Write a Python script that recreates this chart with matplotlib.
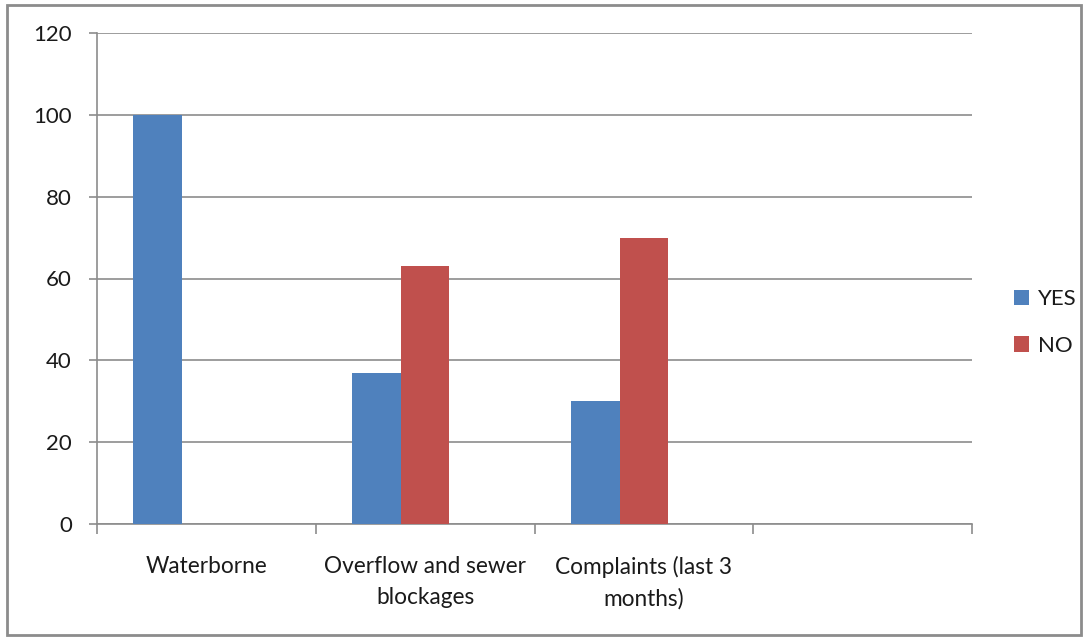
import numpy as np
import matplotlib
matplotlib.use("Agg")
import matplotlib.pyplot as plt
from matplotlib.patches import Rectangle

categories = ["Waterborne", "Overflow and sewer\nblockages", "Complaints (last 3\nmonths)", ""]
yes_vals = [100, 37, 30]
no_vals = [0, 63, 70]
y_ticks = [0, 20, 40, 60, 80, 100, 120]

BLUE = "#4F81BD"
RED = "#C0504D"
GRID = "#8C8C8C"

plt.rcParams["font.family"] = ["Lato", "DejaVu Sans"]

fig = plt.figure(figsize=(10.84, 6.38), dpi=100)
ax = fig.add_axes([97 / 1084, 1 - 524 / 638, 875 / 1084, 491 / 638])

# three series slots per category (third is empty), 150% gap
w = 1 / 4.5
centers = np.arange(len(yes_vals)) + 0.5
ax.bar(centers - w, yes_vals, w, color=BLUE, label="YES", zorder=3)
ax.bar(centers, no_vals, w, color=RED, label="NO", zorder=3)

ax.set_xlim(0, len(categories))
ax.set_ylim(0, 120)
ax.set_yticks(y_ticks)
ax.yaxis.grid(True, color=GRID, lw=1.2, zorder=0)
ax.tick_params(axis="y", length=6, width=1.2, color=GRID, pad=12, labelsize=16,
               labelcolor="#1a1a1a")

ax.set_xticks(np.arange(len(categories)) + 0.5)
ax.set_xticklabels(categories, fontsize=16.3, va="top", color="#1a1a1a")
for lbl in ax.get_xticklabels():
    lbl.set_linespacing(1.6)
ax.set_xticks(np.arange(len(categories) + 1), minor=True)
ax.tick_params(axis="x", which="major", length=0, pad=23)
ax.tick_params(axis="x", which="minor", length=7, width=1.2, color=GRID)

for side in ("top", "right"):
    ax.spines[side].set_visible(False)
for side in ("left", "bottom"):
    ax.spines[side].set_color(GRID)
    ax.spines[side].set_linewidth(1.2)

leg = ax.legend(loc="center left", bbox_to_anchor=(1.025, 0.41), frameon=False,
                fontsize=16, handlelength=0.7, handleheight=0.7,
                handletextpad=0.4, labelspacing=1.2)
for t in leg.get_texts():
    t.set_color("#1a1a1a")

# outer chart border
fig.patches.append(Rectangle((7 / 1084, 3 / 638), 1074 / 1084, 630 / 638,
                             transform=fig.transFigure, fill=False,
                             edgecolor="#8C8C8C", lw=2))

fig.savefig("out.png", dpi=100)
